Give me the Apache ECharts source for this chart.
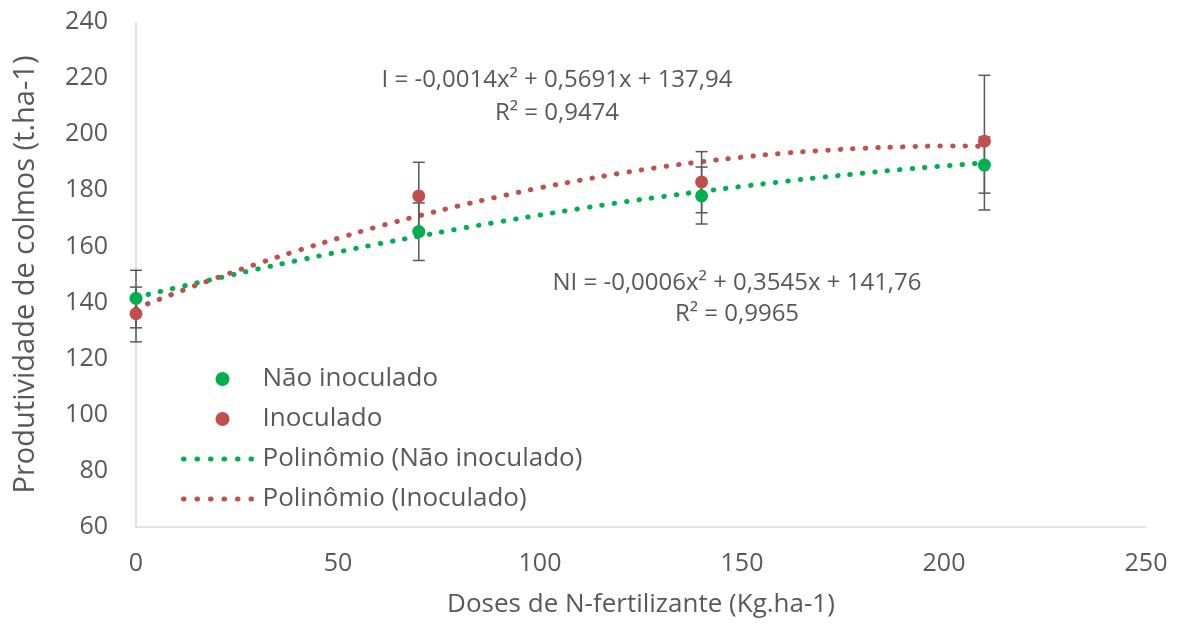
<!DOCTYPE html>
<html>
<head>
<meta charset="utf-8">
<script src="https://cdn.jsdelivr.net/npm/echarts@6/dist/echarts.min.js"></script>
<style>
  html, body { margin: 0; padding: 0; background: #fff; }
  #chart { width: 1186px; height: 625px; }
</style>
</head>
<body>
<div id="chart"></div>
<script>
// doses (kg/ha)
const doses = [0, 70, 140, 210];
// medias
const naoInoculado = [141.5, 165.3, 178.0, 189.0];
const inoculado = [136.0, 178.0, 183.0, 197.5];
// barras de erro (min, max)
const erroNI = [[131, 151.5], [155, 175.5], [168, 188.3], [179, 199]];
const erroI = [[126, 145.5], [166, 190], [172, 193.8], [173, 221]];

// linhas de tendencia (x de 10 em 10)
const xTend = [0,10,20,30,40,50,60,70,80,90,100,110,120,130,140,150,160,170,180,190,200,210];
const tendNI = [141.8,145.3,148.6,151.9,155.0,158.0,160.9,163.6,166.3,168.8,171.2,173.5,175.7,177.7,179.6,181.4,183.1,184.7,186.1,187.5,188.7,189.8];
const tendI = [137.9,143.5,148.8,153.8,158.5,162.9,167.1,170.9,174.5,177.8,180.9,183.6,186.1,188.3,190.2,191.8,193.2,194.2,195.0,195.5,195.8,195.7];

const eqI = ['I = -0,0014x² + 0,5691x + 137,94', 'R² = 0,9474'];
const eqNI = ['NI = -0,0006x² + 0,3545x + 141,76', 'R² = 0,9965'];

const verde = '#00B050';
const vermelho = '#C0504D';
const cinza = '#595959';
const fonte = '"Open Sans", Lato, sans-serif';

let myChart = echarts.init(document.getElementById('chart'));

function pares(xs, ys) {
  return xs.map((x, i) => [x, ys[i]]);
}

// barra de erro com tracos nas pontas
function errItem(params, api) {
  const x = api.value(0);
  const lo = api.coord([x, api.value(1)]);
  const hi = api.coord([x, api.value(2)]);
  const w = 6;
  const st = { stroke: cinza, lineWidth: 1.5 };
  return {
    type: 'group',
    children: [
      { type: 'line', shape: { x1: lo[0], y1: lo[1], x2: hi[0], y2: hi[1] }, style: st },
      { type: 'line', shape: { x1: lo[0] - w, y1: lo[1], x2: lo[0] + w, y2: lo[1] }, style: st },
      { type: 'line', shape: { x1: hi[0] - w, y1: hi[1], x2: hi[0] + w, y2: hi[1] }, style: st }
    ]
  };
}

const pontilhado = { width: 5, type: [0.5, 12], cap: 'round' };
const pontLegenda = { width: 5, type: [0.5, 13], cap: 'round' };

function texto(x, y, t) {
  return {
    type: 'text', x: x, y: y,
    style: { text: t, font: '24px ' + fonte, fill: cinza, align: 'center', verticalAlign: 'middle' }
  };
}

myChart.setOption({
  animation: false,
  textStyle: { fontFamily: fonte },
  grid: { left: 136, right: 40, top: 22, bottom: 98 },
  legend: {
    data: [
      { name: 'Não inoculado' },
      { name: 'Inoculado' },
      { name: 'Polinômio (Não inoculado)', itemStyle: { opacity: 0 }, lineStyle: Object.assign({ color: verde }, pontLegenda) },
      { name: 'Polinômio (Inoculado)', itemStyle: { opacity: 0 }, lineStyle: Object.assign({ color: vermelho }, pontLegenda) }
    ],
    orient: 'vertical',
    left: 176,
    top: 361,
    itemWidth: 78,
    itemHeight: 14,
    itemGap: 14,
    textStyle: { fontSize: 26, lineHeight: 26, color: cinza, fontFamily: fonte, padding: [0, 0, 0, -4] }
  },
  xAxis: {
    type: 'value',
    min: 0,
    max: 250,
    interval: 50,
    name: 'Doses de N-fertilizante (Kg.ha-1)',
    nameLocation: 'middle',
    nameGap: 65,
    nameTextStyle: { fontSize: 26, color: cinza },
    axisLine: { lineStyle: { color: '#d9d9d9', width: 1.5 } },
    axisTick: { show: false },
    splitLine: { show: false },
    axisLabel: { fontSize: 25, color: cinza, margin: 24 }
  },
  yAxis: {
    type: 'value',
    min: 60,
    max: 240,
    interval: 20,
    name: 'Produtividade de colmos (t.ha-1)',
    nameLocation: 'middle',
    nameGap: 96,
    nameTextStyle: { fontSize: 29, color: cinza, padding: [0, 0, 0, 0] },
    axisLine: { show: true, lineStyle: { color: '#d9d9d9', width: 1.5 } },
    axisTick: { show: false },
    splitLine: { show: false },
    axisLabel: { fontSize: 25, color: cinza, margin: 28 }
  },
  series: [
    {
      name: 'Polinômio (Não inoculado)',
      type: 'line',
      data: pares(xTend, tendNI),
      smooth: true,
      symbol: 'none',
      lineStyle: Object.assign({ color: verde }, pontilhado),
      itemStyle: { color: verde },
      z: 2
    },
    {
      name: 'Polinômio (Inoculado)',
      type: 'line',
      data: pares(xTend, tendI),
      smooth: true,
      symbol: 'none',
      lineStyle: Object.assign({ color: vermelho }, pontilhado),
      itemStyle: { color: vermelho },
      z: 2
    },
    {
      name: 'erroNI',
      type: 'custom',
      renderItem: errItem,
      data: doses.map((x, i) => [x, erroNI[i][0], erroNI[i][1]]),
      z: 3
    },
    {
      name: 'erroI',
      type: 'custom',
      renderItem: errItem,
      data: doses.map((x, i) => [x, erroI[i][0], erroI[i][1]]),
      z: 3
    },
    {
      name: 'Não inoculado',
      type: 'scatter',
      data: pares(doses, naoInoculado),
      symbolSize: 13,
      itemStyle: { color: verde, opacity: 1 },
      z: 5
    },
    {
      name: 'Inoculado',
      type: 'scatter',
      data: pares(doses, inoculado),
      symbolSize: 13,
      itemStyle: { color: vermelho, opacity: 1 },
      z: 5
    }
  ],
  graphic: [
    texto(557, 80, eqI[0]),
    texto(557, 113, eqI[1]),
    texto(737, 283, eqNI[0]),
    texto(737, 314, eqNI[1])
  ]
});

window.onresize = function () {
  myChart.resize();
};
</script>
</body>
</html>
